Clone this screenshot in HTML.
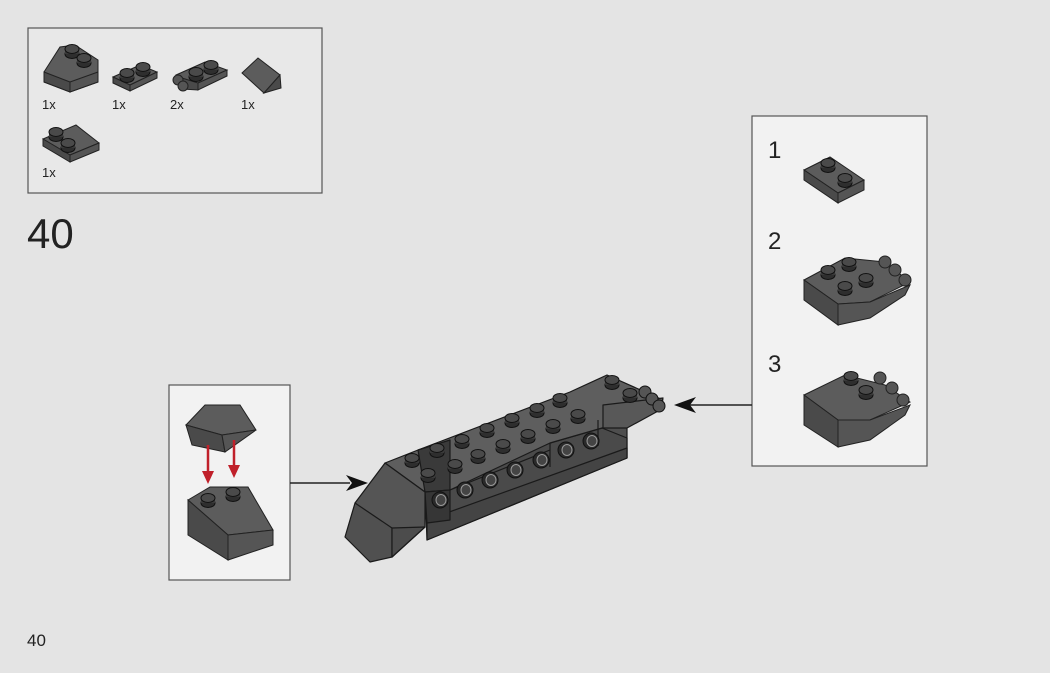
<!DOCTYPE html>
<html><head><style>
html,body{margin:0;padding:0;background:#e4e4e4;}
svg{display:block;}
text{font-family:"Liberation Sans",sans-serif;fill:#222;}
</style></head><body>
<svg width="1050" height="673" viewBox="0 0 1050 673" xmlns="http://www.w3.org/2000/svg">
<rect width="1050" height="673" fill="#e4e4e4"/>
<defs>
<g id="stud"><ellipse cx="0" cy="3" rx="7" ry="4.5" fill="#2e2e2e" stroke="#111" stroke-width="1"/><rect x="-7" y="-2" width="14" height="5" fill="#3a3a3a"/><ellipse cx="0" cy="-2" rx="7" ry="4.5" fill="#4a4a4a" stroke="#111" stroke-width="1"/></g>
<g id="hole"><ellipse cx="0" cy="0" rx="8" ry="8" fill="#2a2a2a" stroke="#111"/><ellipse cx="1" cy="0" rx="5" ry="5.5" fill="#444" stroke="#999" stroke-width="1"/></g>
</defs>

<!-- parts box -->
<rect x="28" y="28" width="294" height="165" fill="#e8e8e8" stroke="#555" stroke-width="1.2"/>
<g stroke="#222" stroke-width="1">
<polygon points="44,72 60,47 75,45 98,60 98,82 70,92 44,82" fill="#5c5c5c"/>
<polygon points="44,72 70,82 70,92 44,82" fill="#4a4a4a"/>
<polygon points="70,82 98,72 98,82 70,92" fill="#555"/>
</g>
<use href="#stud" x="72" y="51"/><use href="#stud" x="84" y="60"/>
<g stroke="#222"><polygon points="113,77 140,65 157,72 130,85" fill="#5c5c5c"/><polygon points="113,77 130,85 130,91 113,83" fill="#4a4a4a"/><polygon points="130,85 157,72 157,78 130,91" fill="#555"/></g>
<use href="#stud" x="127" y="75"/><use href="#stud" x="143" y="69"/>
<g stroke="#222"><polygon points="176,75 205,62 227,70 198,83 182,84" fill="#5c5c5c"/><polygon points="182,78 198,83 198,90 182,89" fill="#4a4a4a"/><polygon points="198,83 227,70 227,76 198,90" fill="#555"/><circle cx="178" cy="80" r="5" fill="#555"/><circle cx="183" cy="86" r="5" fill="#555"/></g>
<use href="#stud" x="196" y="74"/><use href="#stud" x="211" y="67"/>
<g stroke="#222"><polygon points="242,73 258,58 280,75 264,93" fill="#5c5c5c"/><polygon points="264,93 280,75 281,88" fill="#4a4a4a"/></g>
<g stroke="#222"><polygon points="43,139 76,125 99,143 70,155" fill="#5c5c5c"/><polygon points="43,139 70,155 70,162 43,146" fill="#4a4a4a"/><polygon points="70,155 99,143 99,150 70,162" fill="#555"/></g>
<use href="#stud" x="56" y="134"/><use href="#stud" x="68" y="145"/>
<text x="42" y="109" font-size="13">1x</text><text x="112" y="109" font-size="13">1x</text><text x="170" y="109" font-size="13">2x</text><text x="241" y="109" font-size="13">1x</text><text x="42" y="177" font-size="13">1x</text>

<text x="27" y="248" font-size="42" font-weight="300">40</text>
<text x="27" y="646" font-size="17">40</text>

<!-- right callout -->
<rect x="752" y="116" width="175" height="350" fill="#f2f2f2" stroke="#555" stroke-width="1.2"/>
<text x="768" y="158" font-size="24">1</text><text x="768" y="249" font-size="24">2</text><text x="768" y="372" font-size="24">3</text>
<g stroke="#222"><polygon points="804,170 830,157 864,180 838,193" fill="#5c5c5c"/><polygon points="804,170 838,193 838,203 804,180" fill="#4a4a4a"/><polygon points="838,193 864,180 864,190 838,203" fill="#555"/></g>
<use href="#stud" x="828" y="165"/><use href="#stud" x="845" y="180"/>
<g stroke="#222"><polygon points="804,280 845,258 885,262 910,282 870,302 838,304" fill="#5c5c5c"/><polygon points="804,280 838,304 838,325 804,300" fill="#4a4a4a"/><polygon points="838,304 870,302 910,285 905,295 870,318 838,325" fill="#555"/><circle cx="885" cy="262" r="6" fill="#555"/><circle cx="895" cy="270" r="6" fill="#555"/><circle cx="905" cy="280" r="6" fill="#555"/></g>
<use href="#stud" x="828" y="272"/><use href="#stud" x="849" y="264"/><use href="#stud" x="845" y="288"/><use href="#stud" x="866" y="280"/>
<g stroke="#222"><polygon points="804,395 845,375 885,385 910,402 870,420 838,420" fill="#5c5c5c"/><polygon points="804,395 838,420 838,447 804,425" fill="#4a4a4a"/><polygon points="838,420 870,420 910,405 905,415 870,440 838,447" fill="#555"/><circle cx="880" cy="378" r="6" fill="#555"/><circle cx="892" cy="388" r="6" fill="#555"/><circle cx="903" cy="400" r="6" fill="#555"/></g>
<use href="#stud" x="851" y="378"/><use href="#stud" x="866" y="392"/>
<line x1="752" y1="405" x2="690" y2="405" stroke="#222" stroke-width="1.5"/><polygon points="674,405 696,397 690,405 696,413" fill="#111"/>

<!-- left callout -->
<rect x="169" y="385" width="121" height="195" fill="#f2f2f2" stroke="#555" stroke-width="1.2"/>
<g stroke="#222"><polygon points="186,425 205,405 240,405 256,430 222,435" fill="#5c5c5c"/><polygon points="186,425 222,435 225,452 192,445" fill="#4a4a4a"/><polygon points="222,435 256,430 225,452" fill="#555"/></g>
<g stroke="#222"><polygon points="188,500 210,487 248,487 273,530 228,535" fill="#5c5c5c"/><polygon points="188,500 228,535 228,560 188,535" fill="#4a4a4a"/><polygon points="228,535 273,530 273,545 228,560" fill="#555"/></g>
<use href="#stud" x="208" y="500"/><use href="#stud" x="233" y="494"/>
<g stroke="#c0202a" stroke-width="2.5" fill="#c0202a"><line x1="208" y1="445" x2="208" y2="473"/><line x1="234" y1="440" x2="234" y2="467"/></g>
<polygon points="202,471 214,471 208,484" fill="#c0202a"/><polygon points="228,465 240,465 234,478" fill="#c0202a"/>
<line x1="290" y1="483" x2="350" y2="483" stroke="#222" stroke-width="1.5"/><polygon points="368,483 346,475 352,483 346,491" fill="#111"/>

<!-- main model -->
<g stroke="#1a1a1a" stroke-width="1.2" stroke-linejoin="round">
<polygon points="602,428 627,418 627,458 602,468" fill="#4e4e4e"/>
<polygon points="425,492 550,443 602,428 627,438 627,458 427,540" fill="#4a4a4a"/>
<polygon points="427,520 627,448 627,458 427,540" fill="#444"/>
<polygon points="385,463 418,450 570,392 607,375 663,400 602,428 550,443 450,490 425,492" fill="#5e5e5e"/>
<polygon points="603,405 663,398 660,410 627,428 603,428" fill="#585858"/>
<polygon points="418,450 450,440 450,490 425,492" fill="#3a3a3a"/>
<polygon points="425,492 450,490 450,520 427,523" fill="#363636"/>
<polygon points="385,463 425,492 425,527 392,557 355,503" fill="#555"/>
<polygon points="355,503 392,528 392,557 370,562 345,537" fill="#505050"/>
<polygon points="392,528 425,527 392,557" fill="#4c4c4c"/>
<line x1="450" y1="490" x2="550" y2="450"/><line x1="550" y1="443" x2="550" y2="467"/><line x1="598" y1="420" x2="598" y2="446"/>
</g>
<circle cx="645" cy="392" r="6" fill="#555" stroke="#111"/><circle cx="652" cy="399" r="6" fill="#555" stroke="#111"/><circle cx="659" cy="406" r="6" fill="#555" stroke="#111"/>
<use href="#stud" x="412" y="460"/><use href="#stud" x="428" y="475"/>
<use href="#stud" x="437" y="450"/><use href="#stud" x="462" y="441"/><use href="#stud" x="487" y="430"/><use href="#stud" x="512" y="420"/><use href="#stud" x="537" y="410"/><use href="#stud" x="560" y="400"/>
<use href="#stud" x="455" y="466"/><use href="#stud" x="478" y="456"/><use href="#stud" x="503" y="446"/><use href="#stud" x="528" y="436"/><use href="#stud" x="553" y="426"/><use href="#stud" x="578" y="416"/>
<use href="#stud" x="612" y="382"/><use href="#stud" x="630" y="395"/>
<use href="#hole" x="440" y="500"/><use href="#hole" x="465" y="490"/><use href="#hole" x="490" y="480"/><use href="#hole" x="515" y="470"/><use href="#hole" x="541" y="460"/><use href="#hole" x="566" y="450"/><use href="#hole" x="591" y="441"/>
</svg>
</body></html>
